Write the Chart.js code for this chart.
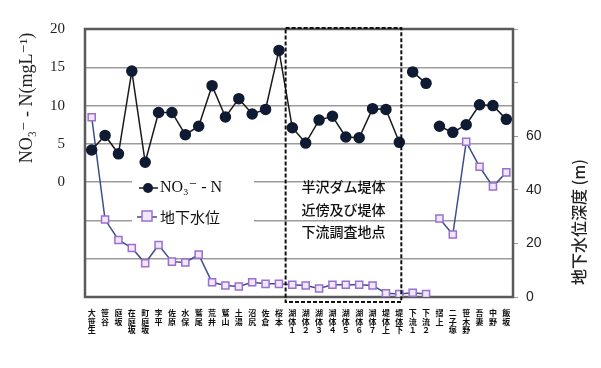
<!DOCTYPE html>
<html>
<head>
<meta charset="utf-8">
<script src="https://cdn.jsdelivr.net/npm/chart.js@4.4.0/dist/chart.umd.min.js"></script>
<style>
html, body { margin: 0; padding: 0; background: #fff; }
</style>
</head>
<body>
<canvas id="c" width="601" height="368"></canvas>
<script>
// 調査地点
const sites = ['大笹生', '笹谷', '庭坂', '在庭坂', '町庭坂', '李平', '佐原', '水保', '鷲尾', '荒井', '鷲山', '土湯', '沼尻', '佐倉', '桜本',
    '湖体１', '湖体２', '湖体３', '湖体４', '湖体５', '湖体６', '湖体７', '堤体上', '堤体下',
    '下流１', '下流２', '摺上', '二子塚', '笹木野', '吾妻', '中野', '飯坂'];

// NO3--N (mg/L)
const no3 = [4.2, 6.1, 3.7, 14.5, 2.6, 9.1, 9.1, 6.2, 7.3, 12.6, 8.5, 10.9, 8.9, 9.5, 17.2,
    7.1, 5.1, 8.1, 8.6, 5.9, 5.8, 9.6, 9.5, 5.2,
    14.4, 12.9, 7.3, 6.5, 7.5, 10.1, 10.0, 8.2];

// 地下水位 (m)
const gw = [67.1, 28.9, 21.3, 18.3, 12.6, 19.4, 13.2, 12.9, 15.8, 5.5, 4.3, 3.9, 5.5, 4.9, 4.9,
    4.6, 4.3, 3.2, 4.6, 4.6, 4.6, 4.3, 1.4, 1.1,
    1.6, 1.1, 29.3, 23.3, 57.9, 48.6, 41.2, 46.5];

// 線を切る区間（この番号の点から次の点へは線を引かない）
const no3Breaks = [23, 25];
const gwBreaks = [25];

const boxLines = ['半沢ダム堤体', '近傍及び堤体', '下流調査地点'];
const leftTitle = 'NO₃⁻ - N(mgL⁻¹)';
const rightTitle = '地下水位深度 (m)';

const jp = '"Noto Sans CJK JP", "Noto Sans", sans-serif';
const serif = '"Liberation Serif", "DejaVu Serif", serif';

let decor = {
    id: 'decor',
    beforeDatasetsDraw(chart){
        let a = chart.chartArea;
        let c = chart.ctx;
        c.save();
        c.strokeStyle = '#5a5a5a';
        c.lineWidth = 2.5;
        c.strokeRect(a.left, a.top, a.right - a.left, a.bottom - a.top);
        c.restore();
    },
    afterDatasetsDraw(chart){
        let c = chart.ctx;
        let x = chart.scales.x;
        let a = chart.chartArea;
        let ds = chart.data.datasets;
        c.save();

        // 堤体付近の破線枠
        let x1 = x.getPixelForValue(14.5);
        let x2 = x.getPixelForValue(23.15);
        c.strokeStyle = '#111';
        c.lineWidth = 2;
        c.setLineDash([4, 2]);
        c.strokeRect(x1, a.top - 1, x2 - x1, a.bottom - a.top + 6);
        c.setLineDash([]);

        c.fillStyle = '#111';
        c.font = '500 14px ' + jp;
        c.textAlign = 'center';
        c.textBaseline = 'middle';
        let cx = (x1 + x2) / 2;
        boxLines.forEach((t, i) => c.fillText(t, cx, 187 + i * 22.5));

        // 凡例
        c.fillStyle = '#fff';
        c.fillRect(132, 178, 122, 50);
        c.lineWidth = 1.5;
        c.strokeStyle = '#1a1a1a';
        c.beginPath(); c.moveTo(139, 188); c.lineTo(158, 188); c.stroke();
        c.fillStyle = '#0f1b33';
        c.beginPath(); c.arc(148, 188, 5, 0, Math.PI * 2); c.fill();
        c.strokeStyle = '#3d4f8c';
        c.beginPath(); c.moveTo(137, 217); c.lineTo(157, 217); c.stroke();
        c.fillStyle = '#efe8f8';
        c.strokeStyle = '#9b6fd2';
        c.fillRect(142, 211, 10, 10);
        c.strokeRect(142, 211, 10, 10);

        c.fillStyle = '#111';
        c.textAlign = 'left';
        c.font = '16px ' + serif;
        c.fillText(ds[0].label, 160, 188);
        c.font = '15px ' + jp;
        c.fillText(ds[1].label, 160, 217);

        // 軸タイトル
        c.fillStyle = '#222';
        c.textAlign = 'center';
        c.save();
        c.translate(27, 98);
        c.rotate(-Math.PI / 2);
        c.font = '18px ' + serif;
        c.fillText(leftTitle, 0, 0);
        c.restore();
        c.save();
        c.translate(579, 222);
        c.rotate(-Math.PI / 2);
        c.font = '500 16px ' + jp;
        c.fillText(rightTitle, 0, 0);
        c.restore();

        c.restore();
    }
};

function gap(list){
    return ctx => list.includes(ctx.p0DataIndex) ? 'transparent' : undefined;
}

new Chart(document.getElementById('c'), {
    type: 'line',
    data: {
        labels: sites.map(s => s.split('')),
        datasets: [{
            label: 'NO₃⁻ - N',
            data: no3,
            yAxisID: 'y',
            borderColor: '#1a1a1a',
            borderWidth: 1.5,
            pointRadius: 5,
            pointBackgroundColor: '#0f1b33',
            pointBorderColor: '#0f1b33',
            segment: { borderColor: gap(no3Breaks) }
        },
        {
            label: '地下水位',
            data: gw,
            yAxisID: 'y2',
            borderColor: '#3d4f8c',
            borderWidth: 1.5,
            pointStyle: 'rect',
            pointRadius: 5,
            pointBorderWidth: 1.5,
            pointBackgroundColor: '#efe8f8',
            pointBorderColor: '#9b6fd2',
            segment: { borderColor: gap(gwBreaks) }
        }]
    },
    options: {
        responsive: false,
        animation: false,
        devicePixelRatio: 1,
        layout: { padding: { top: 17, left: 0, right: 0, bottom: 0 } },
        plugins: { legend: { display: false }, tooltip: { enabled: false } },
        scales: {
            x: {
                offset: true,
                afterFit: s => { s.height = 71; },
                grid: { display: false },
                border: { display: false },
                ticks: {
                    autoSkip: false,
                    maxRotation: 0,
                    minRotation: 0,
                    padding: 4,
                    color: '#111',
                    font: { family: jp, size: 8, weight: 'bold', lineHeight: 1.05 }
                }
            },
            y: {
                position: 'left',
                min: -15,
                max: 20,
                afterFit: s => { s.width = 85; },
                border: { display: false },
                grid: { color: '#9c9c9c', lineWidth: 1.5, drawTicks: false },
                ticks: {
                    stepSize: 5,
                    padding: 20,
                    color: '#222',
                    font: { family: serif, size: 15 },
                    callback: v => v >= 0 ? v : ''
                }
            },
            y2: {
                position: 'right',
                min: 0,
                max: 100,
                afterFit: s => { s.width = 88; },
                border: { display: false },
                grid: { drawOnChartArea: false, color: '#999', tickLength: 5 },
                ticks: {
                    stepSize: 20,
                    padding: 8,
                    color: '#222',
                    font: { family: '"Liberation Sans", Arial, sans-serif', size: 14 },
                    callback: v => v <= 60 ? v : ''
                }
            }
        }
    },
    plugins: [decor]
});
</script>
</body>
</html>
